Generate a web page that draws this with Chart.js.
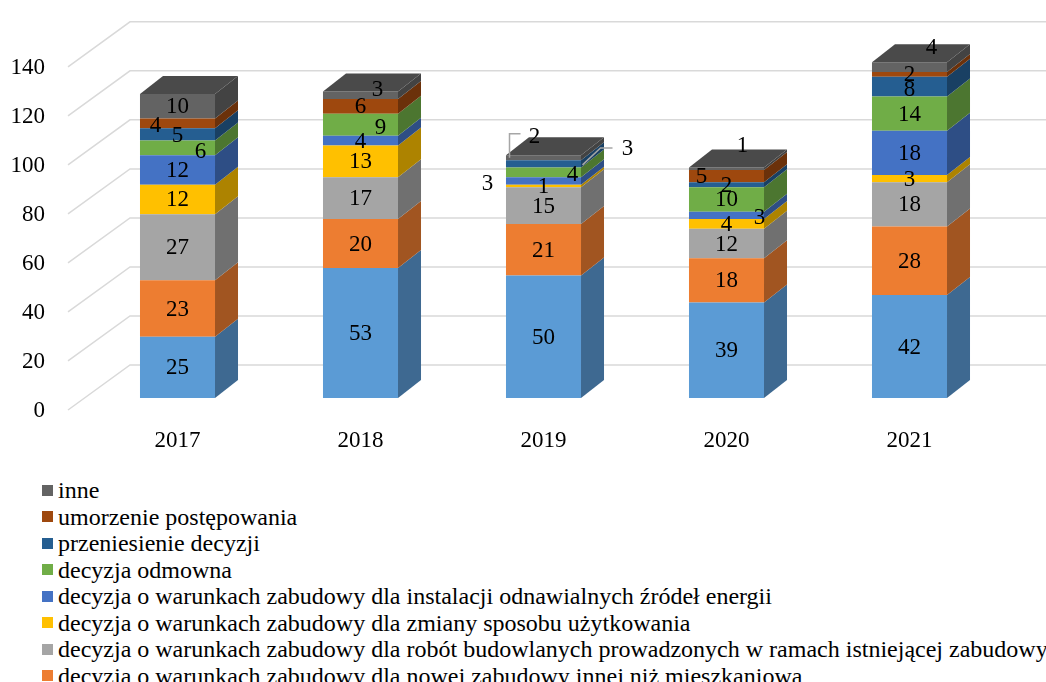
<!DOCTYPE html>
<html><head><meta charset="utf-8">
<script src="https://cdn.jsdelivr.net/npm/chart.js@4.4.1/dist/chart.umd.min.js"></script>
<style>
body{margin:0;width:1046px;height:682px;overflow:hidden;background:#fff;font-family:"Liberation Serif",serif;}
#wrap{position:relative;width:1046px;height:470px;}
#legenda{position:absolute;left:42px;top:477px;font-size:24px;line-height:26.5px;white-space:nowrap;color:#000;}
.poz{display:flex;align-items:center;}
.kw{width:11px;height:11px;margin-right:5px;flex:none;}
</style></head><body>
<div id="wrap"><canvas id="wykres" width="1046" height="470"></canvas></div>
<div id="legenda"></div>
<script>
const lata = ["2017", "2018", "2019", "2020", "2021"];
const mieszkaniowa = [25, 53, 50, 39, 42];
const nowaInna = [23, 20, 21, 18, 28];
const robotyBud = [27, 17, 15, 12, 18];
const zmianaSposobu = [12, 13, 1, 4, 3];
const oze = [12, 4, 3, 3, 18];
const odmowna = [6, 9, 4, 10, 14];
const przeniesienie = [5, 0, 3, 2, 8];
const umorzenie = [4, 6, 0, 5, 2];
const inne = [10, 3, 2, 1, 4];
const osY = [0, 20, 40, 60, 80, 100, 120, 140];

const serie = [
  ["decyzja o warunkach zabudowy dla zabudowy mieszkaniowej", mieszkaniowa, "#5b9bd5"],
  ["decyzja o warunkach zabudowy dla nowej zabudowy innej niż mieszkaniowa", nowaInna, "#ed7d31"],
  ["decyzja o warunkach zabudowy dla robót budowlanych prowadzonych w ramach istniejącej zabudowy", robotyBud, "#a5a5a5"],
  ["decyzja o warunkach zabudowy dla zmiany sposobu użytkowania", zmianaSposobu, "#ffc000"],
  ["decyzja o warunkach zabudowy dla instalacji odnawialnych źródeł energii", oze, "#4472c4"],
  ["decyzja odmowna", odmowna, "#70ad47"],
  ["przeniesienie decyzji", przeniesienie, "#255e91"],
  ["umorzenie postępowania", umorzenie, "#9e480e"],
  ["inne", inne, "#636363"]
];

// przesuniecia etykiet jak w Excelu: "seria,rok": [dx, dy, linia odniesienia]
const przesuniecia = {
  "7,0": [-22, 2], "5,0": [23, 3],
  "8,1": [17, -6], "5,1": [20, 2],
  "4,2": [-56, 2], "5,2": [29, 1],
  "6,2": [84, -16, [[-45, 16], [-27, -1], [-15, -1]]],
  "8,2": [-9, -22, [[-25, 21], [-25, -3], [-14, -3]]],
  "4,3": [33, 2], "7,3": [-25, 0], "8,3": [16, -24],
  "8,4": [22, -20], "6,4": [0, 2]
};

function ciemniej(hex, f) {
  const n = parseInt(hex.slice(1), 16);
  const r = Math.round((n >> 16) * f), g = Math.round(((n >> 8) & 255) * f), b = Math.round((n & 255) * f);
  return `rgb(${r},${g},${b})`;
}

const DX = 23, DY = 18;

const efekt3d = {
  id: "efekt3d",
  beforeDatasetsDraw(chart) {
    const ctx = chart.ctx, y = chart.scales.y, a = chart.chartArea;
    ctx.save();
    ctx.strokeStyle = "#d9d9d9";
    ctx.lineWidth = 1.5;
    osY.forEach(v => {
      const yb = y.getPixelForValue(v);
      ctx.beginPath();
      ctx.moveTo(a.left - 18, yb + 12);
      ctx.lineTo(a.left + 44, yb - 33);
      ctx.lineTo(chart.width, yb - 33);
      ctx.stroke();
    });
    ctx.restore();
  },
  afterDatasetsDraw(chart) {
    const ctx = chart.ctx;
    ctx.save();
    lata.forEach((rok, i) => {
      let szczyt = null;
      chart.data.datasets.forEach((ds, d) => {
        if (!ds.data[i]) return;
        const el = chart.getDatasetMeta(d).data[i];
        const p = el.getProps(["x", "y", "base", "width"], true);
        const prawa = p.x + p.width / 2;
        ctx.fillStyle = ciemniej(ds.backgroundColor, 0.68);
        ctx.beginPath();
        ctx.moveTo(prawa, p.y);
        ctx.lineTo(prawa + DX, p.y - DY);
        ctx.lineTo(prawa + DX, p.base - DY);
        ctx.lineTo(prawa, p.base);
        ctx.closePath();
        ctx.fill();
        szczyt = { p, kolor: ds.backgroundColor };
      });
      if (szczyt) {
        const p = szczyt.p, lewa = p.x - p.width / 2, prawa = p.x + p.width / 2;
        ctx.fillStyle = ciemniej(szczyt.kolor, 0.75);
        ctx.beginPath();
        ctx.moveTo(lewa, p.y);
        ctx.lineTo(lewa + DX, p.y - DY);
        ctx.lineTo(prawa + DX, p.y - DY);
        ctx.lineTo(prawa, p.y);
        ctx.closePath();
        ctx.fill();
      }
    });
    // etykiety wartosci
    ctx.font = '23px "Liberation Serif"';
    ctx.textAlign = "center";
    ctx.textBaseline = "middle";
    chart.data.datasets.forEach((ds, d) => {
      chart.getDatasetMeta(d).data.forEach((el, i) => {
        const v = ds.data[i];
        if (!v) return;
        const p = el.getProps(["x", "y", "base"], true);
        const n = przesuniecia[d + "," + i] || [0, 0];
        const lx = p.x + n[0], ly = (p.y + p.base) / 2 + 1 + n[1];
        if (n[2]) {
          ctx.strokeStyle = "#a6a6a6";
          ctx.lineWidth = 1.5;
          ctx.beginPath();
          n[2].forEach((pt, k) => k ? ctx.lineTo(lx + pt[0], ly + pt[1]) : ctx.moveTo(lx + pt[0], ly + pt[1]));
          ctx.stroke();
        }
        ctx.fillStyle = "#000";
        ctx.fillText(String(v), lx, ly);
      });
    });
    ctx.restore();
  }
};

const wykres = new Chart(document.getElementById("wykres").getContext("2d"), {
  type: "bar",
  data: {
    labels: lata,
    datasets: serie.map(s => ({
      label: s[0],
      data: s[1],
      backgroundColor: s[2],
      borderWidth: 0,
      barPercentage: 0.41,
      categoryPercentage: 1
    }))
  },
  options: {
    responsive: false,
    animation: false,
    layout: { padding: { left: 12, right: 45, top: 36, bottom: 0 } },
    plugins: { legend: { display: false }, tooltip: { enabled: false } },
    scales: {
      x: {
        stacked: true,
        grid: { display: false, drawTicks: false },
        border: { display: false },
        ticks: { color: "#000", font: { family: "Liberation Serif", size: 23 }, padding: 29 },
        afterFit: s => { s.height = 72; }
      },
      y: {
        stacked: true,
        min: 0,
        max: 140,
        grid: { display: false, drawTicks: false },
        border: { display: false },
        afterBuildTicks: s => { s.ticks = osY.map(v => ({ value: v })); },
        ticks: { color: "#000", font: { family: "Liberation Serif", size: 23 }, padding: 41, labelOffset: 13 },
        afterFit: s => { s.width = 74; }
      }
    }
  },
  plugins: [efekt3d]
});

const legenda = document.getElementById("legenda");
serie.slice().reverse().forEach(s => {
  const w = document.createElement("div");
  w.className = "poz";
  w.innerHTML = `<span class="kw" style="background:${s[2]}"></span><span>${s[0]}</span>`;
  legenda.appendChild(w);
});
</script>
</body></html>
